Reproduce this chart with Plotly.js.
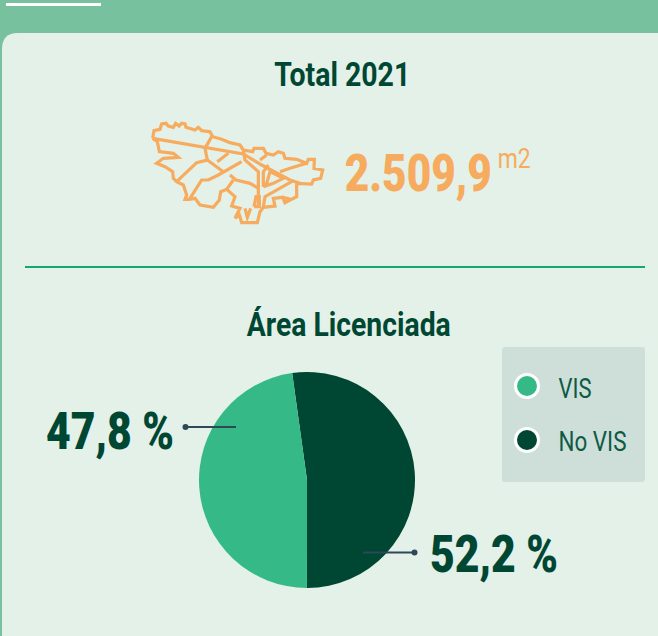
<!DOCTYPE html>
<html><head><meta charset="utf-8">
<script src="https://cdn.plot.ly/plotly-3.0.1.min.js"></script>
<style>html,body{margin:0;padding:0;background:#78c19f}#c{width:658px;height:636px}</style>
</head><body><div id="c"></div>
<script>
const categories = ['No VIS', 'VIS'];
const values = [52.2, 47.8];
const colors = ['#004733', '#35ba87'];
const totalValue = '2.509,9';

const W = 658, H = 636;
const X = v => v / W, Y = v => 1 - v / H;
const FONT = 'Roboto, "Liberation Sans", sans-serif';

// Map outline, drawn as decoration (zoom-crop coordinates)
const mapOutline = [[68,115],[72,92],[90,88],[95,72],[108,70],[115,78],[130,82],[137,70],[147,78],[155,70],[165,72],[168,82],[195,90],[205,82],[215,92],[240,95],[248,110],[275,118],[300,128],[330,135],[340,150],[368,155],[372,145],[400,145],[408,160],[430,165],[445,155],[460,160],[465,175],[500,178],[530,190],[535,178],[553,178],[552,205],[578,210],[572,235],[550,240],[545,252],[500,250],[500,290],[480,300],[465,308],[458,292],[430,295],[435,318],[400,322],[390,335],[382,368],[335,368],[328,345],[315,355],[330,325],[305,318],[315,290],[290,268],[272,275],[268,300],[250,322],[210,315],[195,295],[178,298],[165,298],[170,285],[160,255],[140,245],[130,235],[128,215],[105,200],[80,190],[100,175],[145,172],[130,160],[88,155],[82,125],[68,115]];
const mapInner = [
 [[68,115],[340,162],[395,195],[480,240]],
 [[245,110],[225,145],[232,180],[200,188],[140,245]],
 [[232,180],[280,215]],
 [[262,185],[295,160]],
 [[335,185],[265,225],[235,240],[215,240],[180,295]],
 [[340,150],[345,180],[385,215],[385,320]],
 [[300,225],[318,240],[360,250],[385,265]],
 [[290,268],[310,240]],
 [[400,320],[405,290],[490,242]],
 [[410,165],[390,180]],
 [[400,260],[400,215],[415,195]],
 [[400,260],[410,250],[420,215],[460,235],[430,250],[400,260]],
 [[450,215],[480,205],[530,190]],
 [[480,240],[510,250]],
 [[372,320],[378,290],[388,290],[388,320],[372,320]],
 [[345,325],[352,352],[362,325]],
 [[458,292],[480,297]]
];
const mapPath = pts => pts.map((p, i) =>
  (i ? 'L' : 'M') + X(130 + p[0] / 3).toFixed(5) + ',' + Y(100 + p[1] / 3).toFixed(5)).join(' ');

const P = {xref: 'paper', yref: 'paper'};
const box = (x0, y0, x1, y1, r) => 'M' + X(x0 + r) + ',' + Y(y0) + ' L' + X(x1 - r) + ',' + Y(y0) +
  ' Q' + X(x1) + ',' + Y(y0) + ' ' + X(x1) + ',' + Y(y0 + r) + ' L' + X(x1) + ',' + Y(y1 - r) +
  ' Q' + X(x1) + ',' + Y(y1) + ' ' + X(x1 - r) + ',' + Y(y1) + ' L' + X(x0 + r) + ',' + Y(y1) +
  ' Q' + X(x0) + ',' + Y(y1) + ' ' + X(x0) + ',' + Y(y1 - r) + ' L' + X(x0) + ',' + Y(y0 + r) +
  ' Q' + X(x0) + ',' + Y(y0) + ' ' + X(x0 + r) + ',' + Y(y0) + ' Z';
const circle = (cx, cy, r, fill, line, lw, layer) => ({...P, type: 'circle', layer,
  x0: X(cx - r), x1: X(cx + r), y0: Y(cy - r), y1: Y(cy + r), fillcolor: fill, line: {color: line, width: lw}});
const seg = (x0, y0, x1, y1, c, w, layer) => ({...P, type: 'line', layer,
  x0: X(x0), x1: X(x1), y0: Y(y0), y1: Y(y1), line: {color: c, width: w}});

const MAP = {color: '#f6ab5e', width: 3.2};
const LEAD = '#2f4858';
const shapes = [
  {...P, type: 'path', layer: 'below', path: box(2, 33, 690, 680, 16), fillcolor: '#e3f1e9', line: {width: 0}},
  {...P, type: 'rect', layer: 'below', x0: X(6), x1: X(101), y0: Y(3), y1: Y(6), fillcolor: '#ffffff', line: {width: 0}},
  seg(25, 267, 645, 267, '#17a673', 2, 'below'),
  {...P, type: 'path', layer: 'below', path: box(502, 347, 645, 482, 3), fillcolor: '#cddfd8', line: {width: 0}},
  circle(527, 386, 11.5, colors[1], '#ffffff', 3, 'below'),
  circle(527, 440, 11.5, colors[0], '#ffffff', 3, 'below'),
  {...P, type: 'path', layer: 'below', path: mapPath(mapOutline), fillcolor: 'rgba(0,0,0,0)', line: MAP},
  ...mapInner.map(m => ({...P, type: 'path', layer: 'below', path: mapPath(m), fillcolor: 'rgba(0,0,0,0)', line: MAP})),
  seg(186, 427, 236, 427, LEAD, 2, 'above'),
  circle(185.5, 427, 3, LEAD, LEAD, 0, 'above'),
  seg(363, 552.5, 414, 552.5, LEAD, 2, 'above'),
  circle(414.5, 552.5, 3, LEAD, LEAD, 0, 'above')
];

const fmt = v => v.toFixed(1).replace('.', ',') + ' %';
// text, left, right, vertical centre, font size, colour, weight
const labels = [
  ['Total 2021', 274, 410, 74, 34, '#004733', 700],
  ['Área Licenciada', 247, 451, 324, 33, '#004733', 700],
  [totalValue, 344, 491, 173, 52, '#f6ab5e', 900],
  ['m2', 497, 530, 158, 28, '#f6ab5e', 400],
  [fmt(values[1]), 46, 174, 431, 52, '#004733', 900],
  [fmt(values[0]), 430, 558, 554, 52, '#004733', 900],
  [categories[1], 558, 591, 388, 28, '#0e5a45', 400],
  [categories[0], 558, 626, 441, 28, '#0e5a45', 400]
];
const annotations = labels.map(l => ({
  xref: 'paper', yref: 'paper', x: X((l[1] + l[2]) / 2), y: Y(l[3]), xanchor: 'center', yanchor: 'middle',
  showarrow: false, text: l[0], font: {family: FONT, size: l[4], color: l[5], weight: l[6]}
}));

Plotly.newPlot('c', [{
  type: 'pie', labels: categories, values, sort: false, direction: 'clockwise',
  rotation: -7.9, textinfo: 'none', marker: {colors, line: {width: 0}},
  domain: {x: [X(199), X(415)], y: [Y(588), Y(372)]}, showlegend: false
}], {
  width: W, height: H, margin: {l: 0, r: 0, t: 0, b: 0}, autosize: false,
  paper_bgcolor: '#78c19f', plot_bgcolor: 'rgba(0,0,0,0)', showlegend: false,
  shapes, annotations
}, {displayModeBar: false, staticPlot: true}).then(gd => {
  // Narrow the real text to the condensed widths of the original type.
  gd.querySelectorAll('.annotation-text').forEach((t, i) => {
    const b = t.getBBox();
    const cx = b.x + b.width / 2;
    const sx = (labels[i][2] - labels[i][1]) / b.width;
    t.setAttribute('transform', `translate(${cx} 0) scale(${sx} 1) translate(${-cx} 0)`);
  });
});
</script></body></html>
